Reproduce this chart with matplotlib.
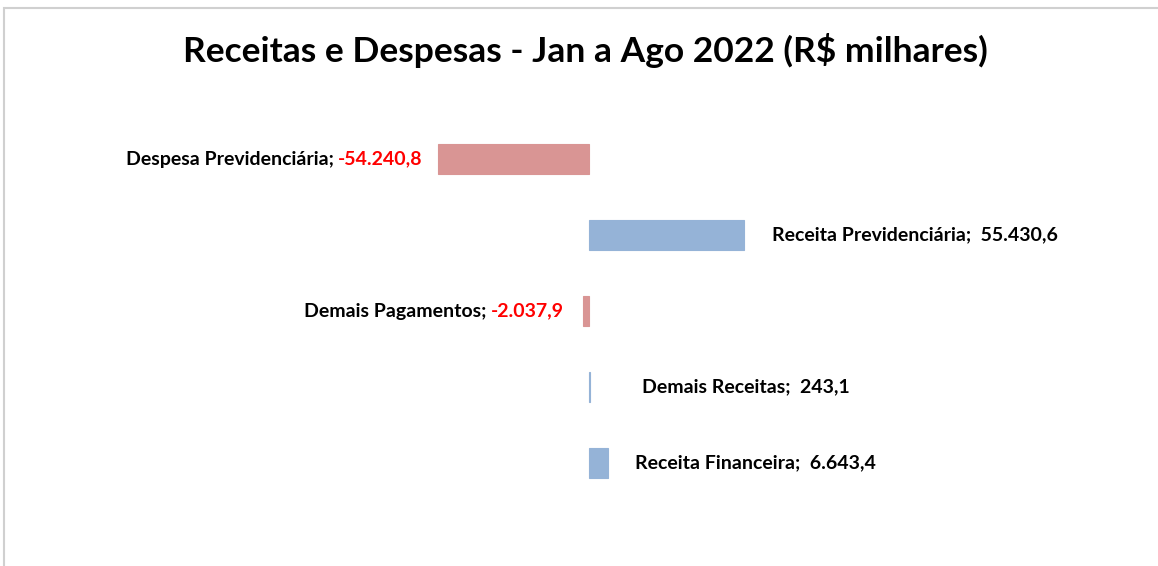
import matplotlib
matplotlib.use('Agg')
import matplotlib.pyplot as plt
from matplotlib import patheffects
from matplotlib.patches import Rectangle

# ========== DATA ==========
CATEGORIES = ['Despesa Previdenciária', 'Receita Previdenciária',
              'Demais Pagamentos', 'Demais Receitas', 'Receita Financeira']
VALUES = [-54240.8, 55430.6, -2037.9, 243.1, 6643.4]
LABELS = ['-54.240,8', '55.430,6', '-2.037,9', '243,1', '6.643,4']
TITLE = 'Receitas e Despesas - Jan a Ago 2022 (R$ milhares)'
# ==========================

RED = '#D99594'
BLUE = '#95B3D7'
FONT = ['Lato', 'DejaVu Sans']
W, H = 1158, 566
ZERO_PX = 589
PX_PER_UNIT = 0.00279
LABEL_GAP = [15, 28, 19, 52, 27]  # pixels between bar end and label

plt.rcParams['font.family'] = FONT

fig = plt.figure(figsize=(W / 100, H / 100), dpi=100)

# light frame (top and left edges visible in the reference)
fig.patches.append(Rectangle((4 / W, -0.1), 1.2, 1.1 - 8 / H, transform=fig.transFigure,
                             fill=False, edgecolor='#D0D0D0', linewidth=1.5))

ax = fig.add_axes([0, 65 / H, 1, 380 / H])
ax.set_xlim(-ZERO_PX / PX_PER_UNIT, (W - ZERO_PX) / PX_PER_UNIT)
ax.set_ylim(len(CATEGORIES) - 0.5, -0.5)
ax.axis('off')

colors = [RED if v < 0 else BLUE for v in VALUES]
bars = ax.barh(range(len(CATEGORIES)), VALUES, height=0.395, color=colors,
               edgecolor=colors, linewidth=0.8)
for b in bars:
    b.set_path_effects([patheffects.SimplePatchShadow(offset=(1, -1), shadow_rgbFace='#999999', alpha=0.2),
                        patheffects.Normal()])

fs = 14
for i, (cat, v, lab) in enumerate(zip(CATEGORIES, VALUES, LABELS)):
    if v < 0:
        t = ax.annotate(lab, xy=(v, i), xytext=(-LABEL_GAP[i], 0), textcoords='offset pixels',
                        ha='right', va='center', color='#FF0000', fontsize=fs, fontweight='bold')
        ax.annotate(cat + '; ', xy=(0, 0), xycoords=t, ha='right', va='bottom',
                    color='black', fontsize=fs, fontweight='bold')
    else:
        ax.annotate(f'{cat};  {lab}', xy=(v, i), xytext=(LABEL_GAP[i], 0), textcoords='offset pixels',
                    ha='left', va='center', color='black', fontsize=fs, fontweight='bold')

fig.text(585 / W, 1 - 50 / H, TITLE, ha='center', va='center', fontsize=25.5, fontweight='bold')

fig.savefig('out.png', dpi=100)
